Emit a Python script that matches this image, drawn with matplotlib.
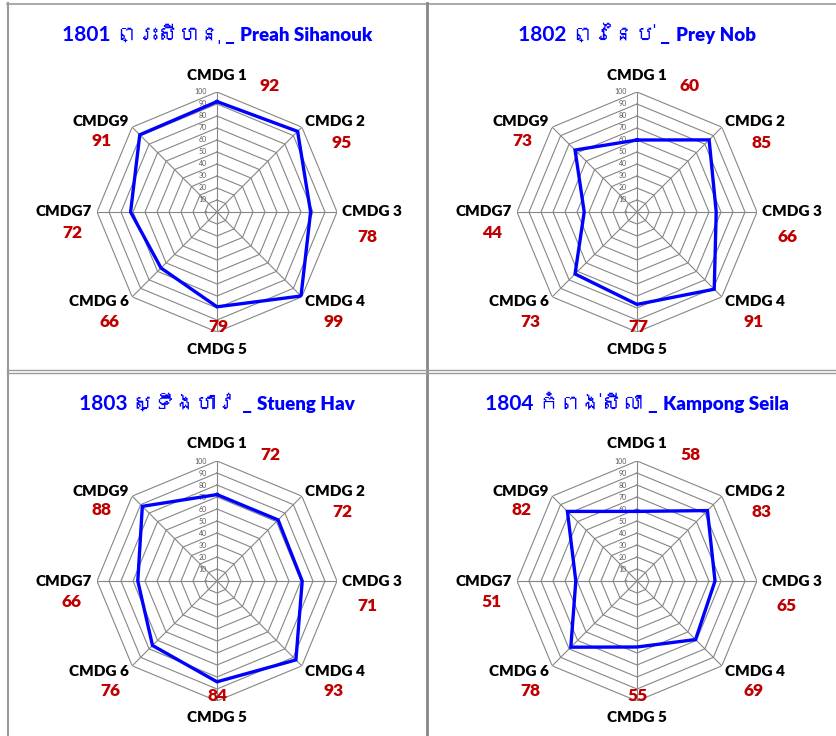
import numpy as np
import matplotlib
matplotlib.use('Agg')
import matplotlib.pyplot as plt
from matplotlib import font_manager
from matplotlib.ft2font import FT2Font
from matplotlib.lines import Line2D

# ---------------- data ----------------
categories = ['CMDG 1', 'CMDG 2', 'CMDG 3', 'CMDG 4', 'CMDG 5', 'CMDG 6', 'CMDG7', 'CMDG9']
codes = ['1801', '1802', '1803', '1804']
names_km = ['ព្រះសីហនុ', 'ព្រៃនប់', 'ស្ទឹងហាវ', 'កំពង់សីលា']
names_en = ['Preah Sihanouk', 'Prey Nob', 'Stueng Hav', 'Kampong Seila']
v1801 = [92, 95, 78, 99, 79, 66, 72, 91]
v1802 = [60, 85, 66, 91, 77, 73, 44, 73]
v1803 = [72, 72, 71, 93, 84, 76, 66, 88]
v1804 = [58, 83, 65, 69, 55, 78, 51, 82]
ring_ticks = [0, 10, 20, 30, 40, 50, 60, 70, 80, 90, 100]
tick_labels = ['-', '10', '20', '30', '40', '50', '60', '70', '80', '90', '100']
series = [v1801, v1802, v1803, v1804]

# ---------------- fonts ----------------
khmer_font = None
for f in font_manager.fontManager.ttflist:
    try:
        if 0x1796 in FT2Font(f.fname).get_charmap():
            khmer_font = f.name
            break
    except Exception:
        pass
latin = 'Lato'
fam = [latin] + ([khmer_font] if khmer_font else []) + ['DejaVu Sans']

# ---------------- layout ----------------
W, H = 836, 736
fig = plt.figure(figsize=(W / 100, H / 100), dpi=100)
fig.patch.set_facecolor('white')

centers = [(217, 212), (637, 212), (217, 581), (637, 581)]
R = 120
# label offsets in pixels (dx right, dy down) relative to chart centre
cat_off = [(0, -137), (118, -90), (155, 0), (118, 90), (0, 137), (-118, 90), (-153, 0), (-116, -90)]
val_off = [(53, -126), (125, -69), (150, 25), (117, 110), (1, 115), (-107, 110), (-145, 21), (-115, -71)]

n = len(categories)
angles = np.arange(n) * 2 * np.pi / n
closed = np.append(angles, angles[0])

grid_col = '#868686'
for k, (cx, cy) in enumerate(centers):
    ax = fig.add_axes([(cx - R) / W, 1 - (cy + R) / H, 2 * R / W, 2 * R / H], projection='polar')
    ax.set_theta_zero_location('N')
    ax.set_theta_direction(-1)
    ax.set_ylim(0, 100)
    ax.set_xticks([])
    ax.set_yticks([])
    ax.grid(False)
    ax.spines['polar'].set_visible(False)
    ax.set_facecolor('none')
    for r in ring_ticks[1:]:
        ax.plot(closed, [r] * (n + 1), color=grid_col, lw=0.8, zorder=1)
    for a in angles:
        ax.plot([a, a], [0, 100], color=grid_col, lw=0.8, zorder=1)
    vals = series[k]
    ax.plot(closed, vals + [vals[0]], color='#0000FF', lw=2.4, zorder=3,
            solid_joinstyle='miter')
    for r, lbl in zip(ring_ticks, tick_labels):
        ax.annotate(lbl, xy=(0, r), xytext=(-10, 0), textcoords='offset pixels',
                    ha='right', va='center', fontsize=5, color='#595959',
                    family=fam, annotation_clip=False, zorder=2)
    for i in range(n):
        dx, dy = cat_off[i]
        ax.annotate(categories[i], xy=(0, 0), xytext=(dx, -dy), textcoords='offset pixels',
                    ha='center', va='center', fontsize=11, fontweight='heavy',
                    color='black', family=fam, annotation_clip=False)
        dx, dy = val_off[i]
        ax.annotate(str(vals[i]), xy=(0, 0), xytext=(dx, -dy), textcoords='offset pixels',
                    ha='center', va='center', fontsize=12.5, fontweight='heavy',
                    color='#C00000', family=fam, annotation_clip=False, zorder=4)

# ---------------- titles ----------------
renderer = fig.canvas.get_renderer()
title_base = [41, 41, 410, 410]
for k, (cx, cy) in enumerate(centers):
    yb = 1 - title_base[k] / H
    t1 = fig.text(0, yb, f'{codes[k]} {names_km[k]} _ ', fontsize=15, fontweight='bold',
                  color='#0000FF', family=fam, ha='left', va='baseline')
    t2 = fig.text(0, yb, names_en[k], fontsize=13.5, fontweight='heavy',
                  color='#0000FF', family=fam, ha='left', va='baseline')
    w1 = t1.get_window_extent(renderer).width
    w2 = t2.get_window_extent(renderer).width
    x0 = cx - (w1 + w2) / 2
    t1.set_x(x0 / W)
    t2.set_x((x0 + w1) / W)

# ---------------- panel borders ----------------
def hline(y, x0, x1, col, lw):
    fig.add_artist(Line2D([x0 / W, x1 / W], [1 - y / H, 1 - y / H], color=col, lw=lw))

def vline(x, y0, y1, col, lw):
    fig.add_artist(Line2D([x / W, x / W], [1 - y0 / H, 1 - y1 / H], color=col, lw=lw))

border = '#9A9A9A'
hline(3.5, 7, W, border, 1.2)
vline(7.5, 3, H, border, 1.5)
vline(427, 3, H, '#888888', 2.0)
hline(369.5, 7, W, border, 1.0)
hline(372.5, 7, W, border, 1.0)

fig.savefig('out.png', dpi=100, facecolor='white')
